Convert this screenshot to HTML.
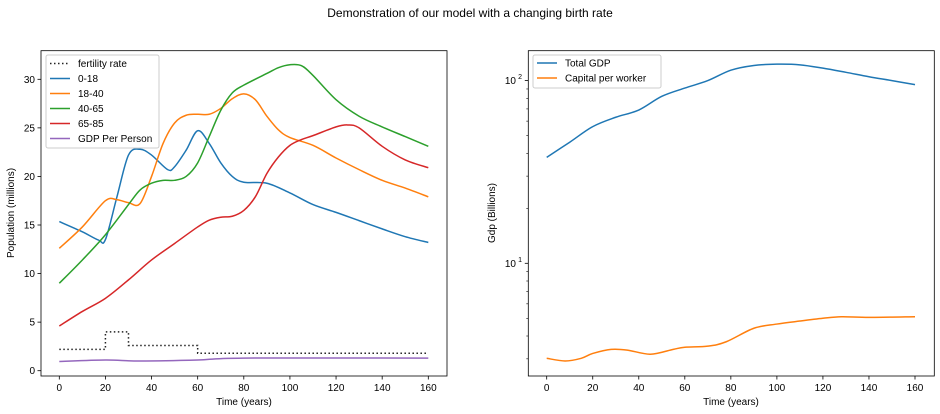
<!DOCTYPE html>
<html><head><meta charset="utf-8"><style>
body{margin:0;background:#fff;}
svg{display:block;font-family:"Liberation Sans","DejaVu Sans",sans-serif;}
</style></head><body>
<svg id="c" width="940" height="414" xmlns="http://www.w3.org/2000/svg">
<text x="470" y="17" text-anchor="middle" font-size="12">Demonstration of our model with a changing birth rate</text>
</svg>
<script>
const years = [0,10,17,20,25,30,35,40,47,50,55,60,65,70,75,80,85,90,95,100,105,110,120,125,130,140,150,160];
const tA=[0,10,17,20,25,30,35,40,47,50,55,60,65,70,75,80,90,100,110,120,130,140,150,160];
const age0_18=[15.35,14.3,13.45,13.5,17.9,22.2,22.8,22.2,20.7,21.0,22.7,24.7,23.4,21.4,20.0,19.4,19.3,18.3,17.1,16.3,15.45,14.6,13.8,13.2];
const tB=[0,10,20,25,30,35,40,45,50,55,60,65,70,75,80,85,90,95,100,110,120,130,140,150,160];
const age18_40=[12.6,14.8,17.5,17.6,17.3,17.2,20.0,23.4,25.5,26.3,26.4,26.4,27.0,28.0,28.5,27.9,26.2,24.8,24.0,23.2,21.9,20.7,19.6,18.8,17.9];
const tC=[0,10,20,30,35,40,45,50,55,60,65,70,75,80,90,95,100,105,110,120,130,140,150,160];
const age40_65=[9.0,11.4,14.0,17.1,18.6,19.3,19.6,19.6,20.0,21.4,24.1,26.8,28.6,29.4,30.6,31.2,31.5,31.4,30.4,27.9,26.2,25.1,24.1,23.1];
const tD=[0,10,20,30,40,50,60,65,70,75,80,85,90,95,100,105,110,120,125,130,140,150,160];
const age65_85=[4.6,6.1,7.45,9.35,11.4,13.1,14.8,15.5,15.8,15.9,16.5,17.9,20.3,22.0,23.2,23.8,24.2,25.1,25.3,25.0,23.1,21.7,20.9];
const tE=[0,20,35,60,80,160];
const gdpPerPerson=[0.95,1.1,1.0,1.1,1.3,1.3];
const fertT=[0,20,20,30,30,60,60,160];
const fertility=[2.2,2.2,4.0,4.0,2.6,2.6,1.8,1.8];
const tG=[0,10,20,30,40,50,60,70,80,90,100,110,120,130,140,150,160];
const totalGDP=[38,46,56,63,69,82,91,100,114,121,123,122,117,111,105,100,95];
const tK=[0,8,15,20,28,35,45,55,60,70,78,90,100,110,120,128,140,160];
const capitalPerWorker=[3.02,2.92,3.02,3.21,3.38,3.35,3.18,3.38,3.47,3.52,3.72,4.41,4.65,4.83,5.0,5.1,5.06,5.1];
const xTicks=[0,20,40,60,80,100,120,140,160];
const yTicksL=[0,5,10,15,20,25,30];

const svg=document.getElementById('c');
const NS='http://www.w3.org/2000/svg';
function mk(tag,attrs,parent){const e=document.createElementNS(NS,tag);for(const k in attrs)e.setAttribute(k,attrs[k]);(parent||svg).appendChild(e);return e;}
const colors={b:'#1f77b4',o:'#ff7f0e',g:'#2ca02c',r:'#d62728',p:'#9467bd'};
// left axes
const xL=t=>59.3+t*(428.3-59.3)/160;
const yL=v=>370.7-v*(370.7-79.3)/30;
// right axes
const xR=t=>546.7+t*(915-546.7)/160;
const yR=v=>263.3-(Math.log10(v)-1)*182.7;

function smooth(xs,ys){
  const p=xs.map((x,i)=>[x,ys[i]]);let d='M'+p[0][0].toFixed(2)+','+p[0][1].toFixed(2);
  for(let i=0;i<p.length-1;i++){const p0=p[Math.max(0,i-1)],p1=p[i],p2=p[i+1],p3=p[Math.min(p.length-1,i+2)];
    const c1=[p1[0]+(p2[0]-p0[0])/6,p1[1]+(p2[1]-p0[1])/6],c2=[p2[0]-(p3[0]-p1[0])/6,p2[1]-(p3[1]-p1[1])/6];
    d+=` C${c1[0].toFixed(2)},${c1[1].toFixed(2)} ${c2[0].toFixed(2)},${c2[1].toFixed(2)} ${p2[0].toFixed(2)},${p2[1].toFixed(2)}`;}
  return d;}
function ln(g,ts,vs,fx,fy,col,name,dash){
  const e=mk('path',{d:smooth(ts.map(fx),vs.map(fy)),fill:'none',stroke:col,'stroke-width':1.5},g);
  if(dash)e.setAttribute('stroke-dasharray',dash);
  
  }

// LEFT
const gl=mk('g',{});


{const fp=fertT.map((t,i)=>(i?'L':'M')+xL(t).toFixed(2)+','+yL(fertility[i]).toFixed(2)).join(' ');
 const e=mk('path',{d:fp,fill:'none',stroke:'#222','stroke-width':1.5,'stroke-dasharray':'1.5,2.5'},gl);
 
 }
ln(gl,tA,age0_18,xL,yL,colors.b,'line-0-18');
ln(gl,tB,age18_40,xL,yL,colors.o,'line-18-40');
ln(gl,tC,age40_65,xL,yL,colors.g,'line-40-65');
ln(gl,tD,age65_85,xL,yL,colors.r,'line-65-85');
ln(gl,tE,gdpPerPerson,xL,yL,colors.p,'line-gdp-per-person');
mk('rect',{x:41,y:50.7,width:406,height:325.3,fill:'none',stroke:'#000','stroke-width':0.8},gl);
xTicks.forEach(t=>{mk('line',{x1:xL(t),x2:xL(t),y1:376,y2:379.5,stroke:'#000','stroke-width':0.8},gl);
  const tx=mk('text',{x:xL(t),y:391,'text-anchor':'middle','font-size':10},gl);tx.textContent=t;
  
  });
yTicksL.forEach(v=>{mk('line',{x1:37.5,x2:41,y1:yL(v),y2:yL(v),stroke:'#000','stroke-width':0.8},gl);
  const tx=mk('text',{x:35,y:yL(v)+3.5,'text-anchor':'end','font-size':10},gl);tx.textContent=v;
  
  });
{const t=mk('text',{x:244,y:405,'text-anchor':'middle','font-size':10},gl);t.textContent='Time (years)';
 
 
 const t2=mk('text',{x:14,y:213,'text-anchor':'middle','font-size':10,transform:'rotate(-90 14 213)'},gl);t2.textContent='Population (millions)';
 
 }
// legend left
{const lg=mk('g',{},gl);
 
 
 mk('rect',{x:46,y:55,width:113,height:93,fill:'#fff','fill-opacity':0.8,stroke:'#ccc',rx:2},lg);
 const items=[['fertility rate','#222',1],['0-18',colors.b],['18-40',colors.o],['40-65',colors.g],['65-85',colors.r],['GDP Per Person',colors.p]];
 items.forEach((it,i)=>{const y=63.5+i*15;
  const l=mk('line',{x1:50,x2:70,y1:y,y2:y,stroke:it[1],'stroke-width':1.5},lg);
  if(it[2])l.setAttribute('stroke-dasharray','1.5,2.5');
  const t=mk('text',{x:78,y:y+3.5,'font-size':10},lg);t.textContent=it[0];
  
  });}

// RIGHT
const gr=mk('g',{});


ln(gr,tG,totalGDP,xR,yR,colors.b,'line-total-gdp');
ln(gr,tK,capitalPerWorker,xR,yR,colors.o,'line-capital-per-worker');
mk('rect',{x:528.3,y:50.7,width:406,height:325.3,fill:'none',stroke:'#000','stroke-width':0.8},gr);
xTicks.forEach(t=>{mk('line',{x1:xR(t),x2:xR(t),y1:376,y2:379.5,stroke:'#000','stroke-width':0.8},gr);
  const tx=mk('text',{x:xR(t),y:391,'text-anchor':'middle','font-size':10},gr);tx.textContent=t;
  
  });
[3,4,5,6,7,8,9,20,30,40,50,60,70,80,90].forEach(v=>{mk('line',{x1:526.3,x2:528.3,y1:yR(v),y2:yR(v),stroke:'#000','stroke-width':0.6},gr);});
[[10,'1'],[100,'2']].forEach(([v,e])=>{mk('line',{x1:524.8,x2:528.3,y1:yR(v),y2:yR(v),stroke:'#000','stroke-width':0.8},gr);
  const tx=mk('text',{x:516,y:yR(v)+3.5,'text-anchor':'end','font-size':10},gr);tx.textContent='10';
  
  
  const s=mk('text',{x:522,y:yR(v)-1.5,'text-anchor':'end','font-size':7},gr);s.textContent=e;});
{const t=mk('text',{x:731,y:405,'text-anchor':'middle','font-size':10},gr);t.textContent='Time (years)';
 
 
 const t2=mk('text',{x:495,y:213,'text-anchor':'middle','font-size':10,transform:'rotate(-90 495 213)'},gr);t2.textContent='Gdp (Billions)';
 
 }
{const lg=mk('g',{},gr);
 
 
 mk('rect',{x:533,y:55,width:128,height:33,fill:'#fff','fill-opacity':0.8,stroke:'#ccc',rx:2},lg);
 [['Total GDP',colors.b],['Capital per worker',colors.o]].forEach((it,i)=>{const y=63+i*15;
  mk('line',{x1:537,x2:557,y1:y,y2:y,stroke:it[1],'stroke-width':1.5},lg);
  const t=mk('text',{x:565,y:y+3.5,'font-size':10},lg);t.textContent=it[0];
  
  });}
</script>
</body></html>
